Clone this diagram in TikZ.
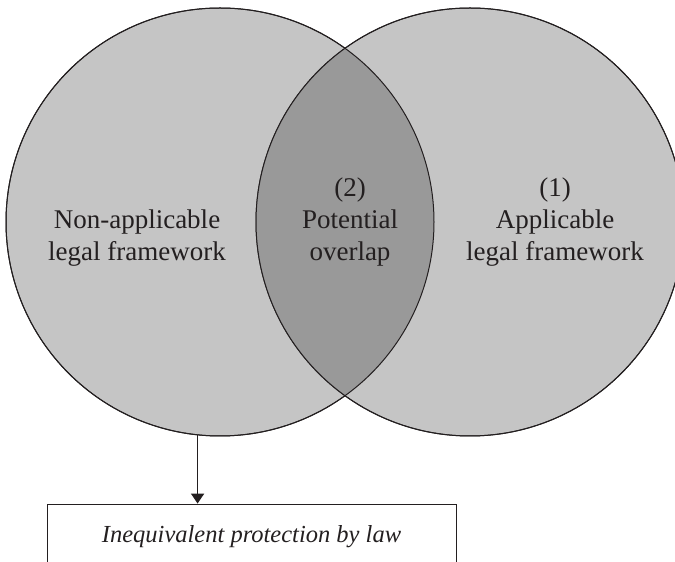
\documentclass[tikz,border=0pt]{standalone}
\usepackage{fontspec}
\setmainfont{Liberation Serif}
\usetikzlibrary{arrows.meta}

\definecolor{setgray}{HTML}{C5C5C5}
\definecolor{lensgray}{HTML}{999999}
\definecolor{inkgray}{HTML}{231F20}

\begin{document}
\begin{tikzpicture}[x=1pt, y=1pt,
  every node/.style={font=\fontsize{27}{32}\selectfont, text=inkgray},
  setcircle/.style={circle, draw=inkgray, line width=1pt, minimum size=428pt, inner sep=0pt},
  label/.style={align=center},
  outcome/.style={draw=inkgray, line width=0.9pt, minimum width=409pt, minimum height=66pt,
    font=\fontsize{24.5}{28}\selectfont\itshape}]

\useasboundingbox (0,0) rectangle (675,562);

% the two sets
\node[setcircle, fill=setgray] (nonapp) at (220,340) {};
\node[setcircle, fill=setgray] (app) at (470,340) {};

% overlap of the two sets
\begin{scope}
  \clip (220,340) circle (214pt);
  \fill[lensgray] (470,340) circle (214pt);
\end{scope}

% outlines again on top
\draw[inkgray, line width=1pt] (220,340) circle (214pt);
\draw[inkgray, line width=1pt] (470,340) circle (214pt);

% labels inside the sets
\node[label] (nonapptext) at (137,324) {Non-applicable\\legal framework};
\node[label] (overlaptext) at (350,340) {(2)\\Potential\\overlap};
\node[label] (apptext) at (555,340) {(1)\\Applicable\\legal framework};

% consequence box
\node[outcome] (protection) at (251.5,25) {Inequivalent protection by law};

% arrow down to the box
\draw[inkgray, line width=1.8pt, -{Triangle[length=10pt, width=13pt]}]
  (nonapp.264) -- (nonapp.264 |- protection.north);

\end{tikzpicture}
\end{document}
